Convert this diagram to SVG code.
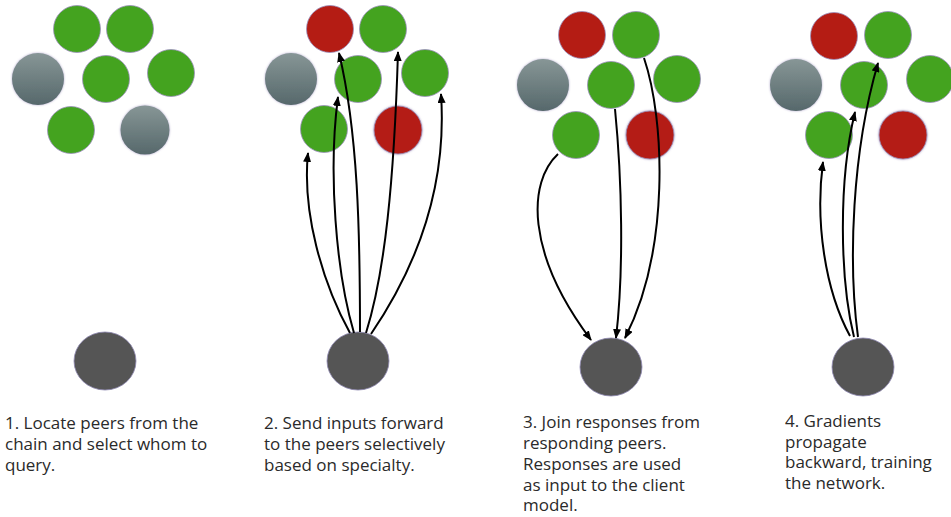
<svg xmlns="http://www.w3.org/2000/svg" width="951" height="517" viewBox="0 0 951 517">
  <style>
    .g { fill: #44a31f; stroke: #9c91bd; stroke-width: 0.8; }
    .r { fill: #b41c14; stroke: #9c91bd; stroke-width: 0.8; }
    .s { fill: url(#grayGrad); filter: url(#soft); }
    .d { fill: #555555; stroke: #8d86b0; stroke-width: 0.8; }
    .e { fill: none; stroke: #000; stroke-width: 2; marker-end: url(#arrow); }
    .t { font-family: "Open Sans", "Noto Sans", sans-serif; font-size: 17px; fill: #2a2a2a; }
  </style>
  <defs>
    <linearGradient id="grayGrad" x1="0" y1="0" x2="0" y2="1">
      <stop offset="0" stop-color="#879696"/>
      <stop offset="1" stop-color="#56686b"/>
    </linearGradient>
    <filter id="soft" x="-20%" y="-20%" width="140%" height="140%">
      <feDropShadow dx="0" dy="0" stdDeviation="1" flood-color="#8a7fb0" flood-opacity="0.7"/>
    </filter>
    <marker id="arrow" markerUnits="userSpaceOnUse" markerWidth="10" markerHeight="8" refX="9" refY="4" orient="auto">
      <path d="M0,0 L10,4 L0,8 z" fill="#000"/>
    </marker>
  </defs>

  <!-- Panel 1 -->
  <g id="p1-a"><circle class="g" cx="77" cy="29" r="23.5"/></g>
  <g id="p1-b"><circle class="g" cx="130" cy="29" r="23.5"/></g>
  <g id="p1-c"><circle class="s" cx="38" cy="79" r="26"/></g>
  <g id="p1-d"><circle class="g" cx="106" cy="79" r="23.5"/></g>
  <g id="p1-e"><circle class="g" cx="171" cy="73" r="23.5"/></g>
  <g id="p1-f"><circle class="g" cx="71" cy="130" r="23.5"/></g>
  <g id="p1-g"><circle class="s" cx="145" cy="130" r="24.5"/></g>
  <g id="p1-client"><ellipse class="d" cx="105" cy="361" rx="31" ry="29"/></g>

  <!-- Panel 2 -->
  <g id="p2-a"><circle class="r" cx="330" cy="29" r="23.5"/></g>
  <g id="p2-b"><circle class="g" cx="383" cy="29" r="23.5"/></g>
  <g id="p2-c"><circle class="s" cx="291" cy="79" r="26"/></g>
  <g id="p2-d"><circle class="g" cx="358" cy="79" r="23.5"/></g>
  <g id="p2-e"><circle class="g" cx="425" cy="73" r="23.5"/></g>
  <g id="p2-f"><circle class="g" cx="324" cy="129" r="23.5"/></g>
  <g id="p2-g"><circle class="r" cx="398" cy="130" r="24" filter="url(#soft)"/></g>
  <g id="p2-client"><ellipse class="d" cx="358" cy="361" rx="31" ry="29"/></g>

  <!-- Panel 3 -->
  <g id="p3-a"><circle class="r" cx="582" cy="35" r="23.5"/></g>
  <g id="p3-b"><circle class="g" cx="636" cy="35" r="23.5"/></g>
  <g id="p3-c"><circle class="s" cx="543" cy="85" r="26"/></g>
  <g id="p3-d"><circle class="g" cx="611" cy="85" r="23.5"/></g>
  <g id="p3-e"><circle class="g" cx="677" cy="79" r="23.5"/></g>
  <g id="p3-f"><circle class="g" cx="576" cy="135" r="23.5"/></g>
  <g id="p3-g"><circle class="r" cx="650" cy="135" r="24" filter="url(#soft)"/></g>
  <g id="p3-client"><ellipse class="d" cx="611" cy="367" rx="31" ry="29"/></g>

  <!-- Panel 4 -->
  <g id="p4-a"><circle class="r" cx="834" cy="36" r="23.5"/></g>
  <g id="p4-b"><circle class="g" cx="888" cy="35" r="23.5"/></g>
  <g id="p4-c"><circle class="s" cx="796" cy="85" r="26"/></g>
  <g id="p4-d"><circle class="g" cx="864" cy="85" r="23.5"/></g>
  <g id="p4-e"><circle class="g" cx="930" cy="79" r="23.5"/></g>
  <g id="p4-f"><circle class="g" cx="829" cy="135" r="23.5"/></g>
  <g id="p4-g"><circle class="r" cx="903" cy="135" r="24" filter="url(#soft)"/></g>
  <g id="p4-client"><ellipse class="d" cx="863" cy="367" rx="31" ry="29"/></g>

  <!-- Connectors -->
  <g id="connectors">
    <path class="e" d="M350,333 C322,282 302,212 308,153"/>
    <path class="e" d="M354,333 C336,272 328,172 338,97"/>
    <path class="e" d="M360,332 C360,232 358,132 339,53"/>
    <path class="e" d="M366,333 C385,272 394,182 398,52"/>
    <path class="e" d="M371,334 C420,262 447,182 441,94"/>

    <path class="e" d="M558,154 C528,182 525,252 591,340"/>
    <path class="e" d="M615,109 C622,180 624,270 616,338"/>
    <path class="e" d="M644,58 C665,120 670,250 625,338"/>

    <path class="e" d="M850,336 C825,290 815,222 823,162"/>
    <path class="e" d="M854,337 C840,280 838,182 855,112"/>
    <path class="e" d="M858,337 C848,262 852,152 878,63"/>
  </g>

  <!-- Captions -->
  <g id="caption-1">
    <text class="t" x="5" y="429">1. Locate peers from the</text>
    <text class="t" x="5" y="450">chain and select whom to</text>
    <text class="t" x="5" y="471">query.</text>
  </g>
  <g id="caption-2">
    <text class="t" x="264" y="429">2. Send inputs forward</text>
    <text class="t" x="264" y="450">to the peers selectively</text>
    <text class="t" x="264" y="471">based on specialty.</text>
  </g>
  <g id="caption-3">
    <text class="t" x="523" y="428">3. Join responses from</text>
    <text class="t" x="523" y="449">responding peers.</text>
    <text class="t" x="523" y="470">Responses are used</text>
    <text class="t" x="523" y="491">as input to the client</text>
    <text class="t" x="523" y="511">model.</text>
  </g>
  <g id="caption-4">
    <text class="t" x="785" y="427">4. Gradients</text>
    <text class="t" x="785" y="447.5">propagate</text>
    <text class="t" x="785" y="468">backward, training</text>
    <text class="t" x="785" y="488.5">the network.</text>
  </g>
</svg>
